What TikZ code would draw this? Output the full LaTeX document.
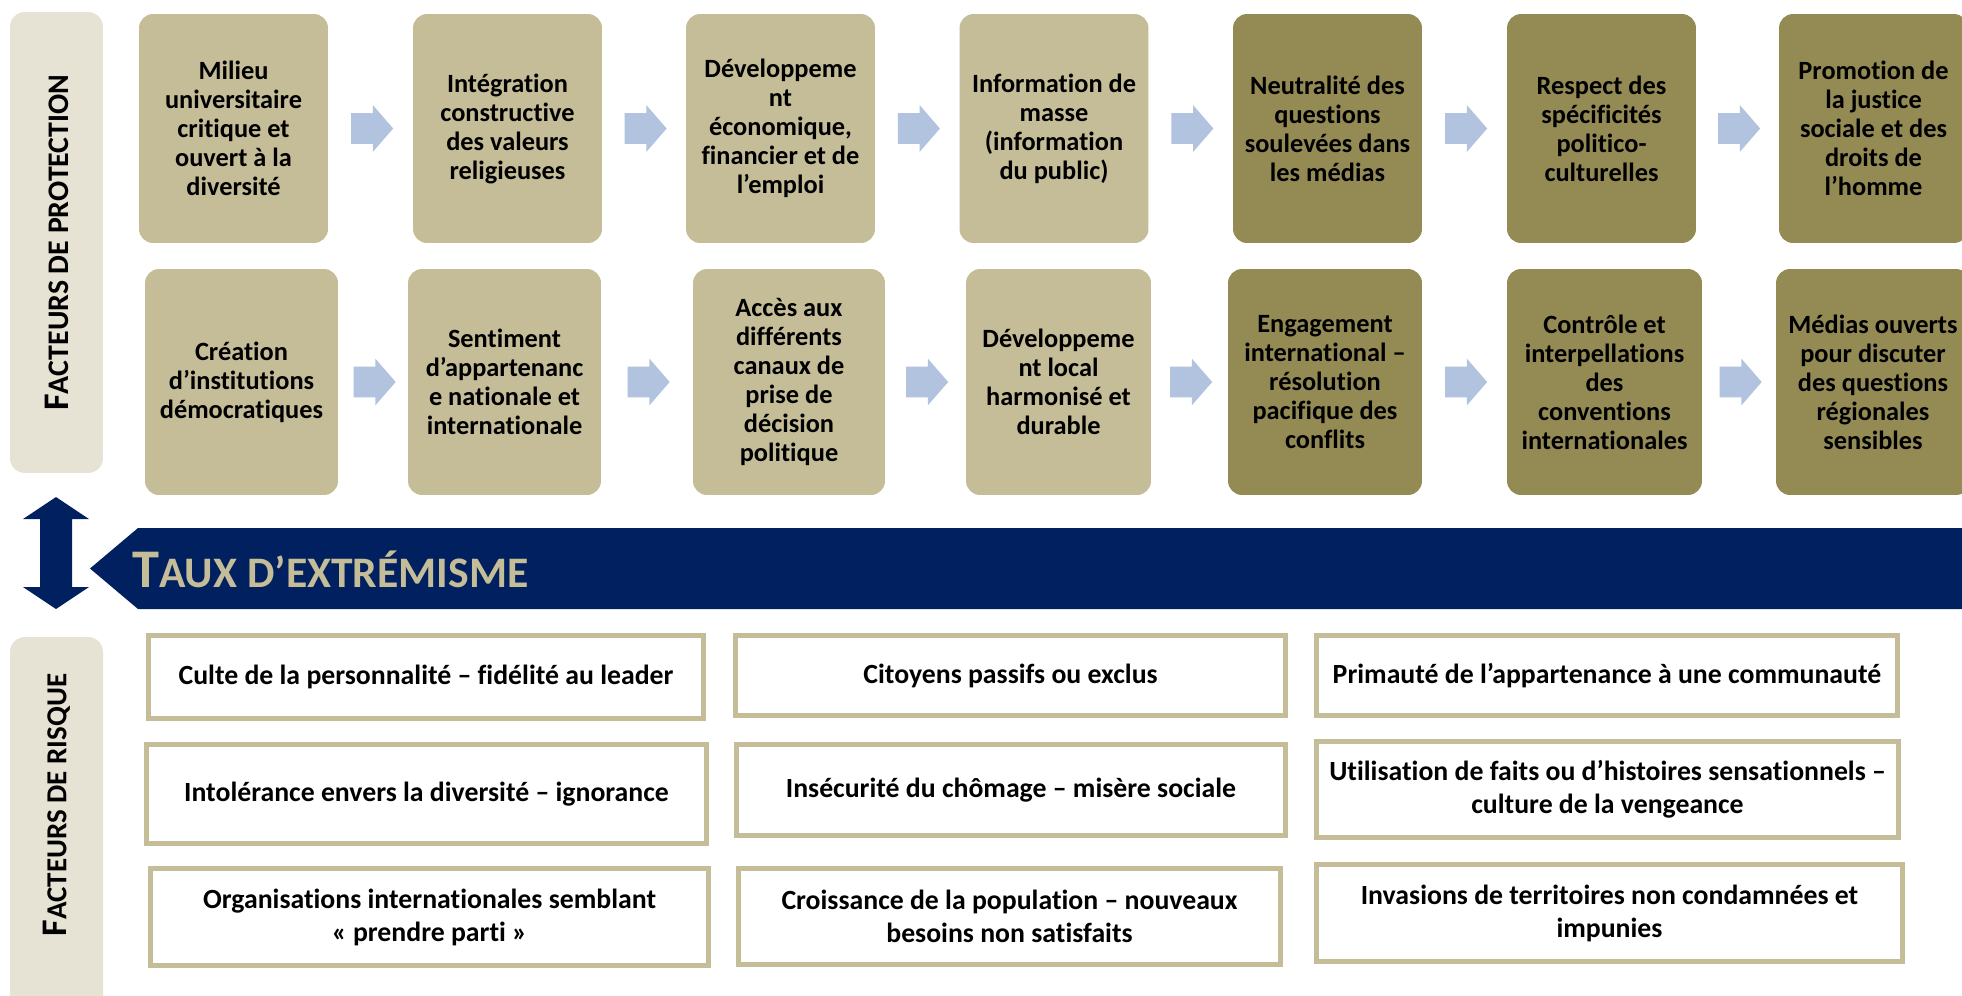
\documentclass[tikz,border=0pt]{standalone}
\usepackage{fontspec}
\setmainfont{Carlito}[Ligatures=NoCommon]
\usepackage{tikz}
\usetikzlibrary{positioning,arrows,calc,shapes.arrows}

\definecolor{tanlight}{HTML}{C4BD97}
\definecolor{tandark}{HTML}{948A54}
\definecolor{sidefill}{HTML}{E6E2D4}
\definecolor{navy}{HTML}{002060}
\definecolor{arrowblue}{HTML}{B2C3DF}

\tikzset{
    factor/.style = {
        shape=rectangle,
        rounded corners=0.28cm,
        fill=tanlight,
        align=center,
        inner sep=0pt,
        minimum width=3.78cm,
        minimum height=4.58cm,
        font=\bfseries\fontsize{15pt}{16.5pt}\selectfont
    },
    factordark/.style = {
        factor,
        fill=tandark
    },
    lower/.style = {
        minimum height=4.52cm
    },
    risk/.style = {
        draw=tanlight,
        shape=rectangle,
        fill=white,
        line width=0.1cm,
        align=center,
        inner sep=0pt,
        font=\bfseries\fontsize{15.8pt}{18.8pt}\selectfont
    },
    sidebar/.style = {
        shape=rectangle,
        rounded corners=0.3cm,
        fill=sidefill,
        minimum width=9.22cm,
        minimum height=1.86cm,
        rotate=90,
        font=\bfseries
    },
    flow/.style = {
        shape=single arrow,
        fill=arrowblue,
        inner xsep=0pt,
        inner ysep=0.3cm,
        minimum height=0.84cm,
        minimum width=0.92cm,
        single arrow head extend=0.16cm,
        single arrow tip angle=98,
        xshift=-0.1cm
    },
    >=latex',
}

\newcommand{\capsize}[2]{{\fontsize{#1}{#1}\selectfont #2}}

\begin{document}
\begin{tikzpicture}[x=0.02cm, y=-0.02cm]
            \clip (0,0) rectangle (1962,995);
            \fill[white] (0,0) rectangle (1962,995);

            % protection factors
            \node[sidebar] (protect) at (56.5,242.5) {\capsize{20.5pt}{F}\capsize{17pt}{ACTEURS DE PROTECTION}};

            \node[factor]     (p11) at (233.5,128.5)  {Milieu\\universitaire\\critique et\\ouvert à la\\diversité};
            \node[factor]     (p12) at (507.5,128.5)  {Intégration\\constructive\\des valeurs\\religieuses};
            \node[factor]     (p13) at (780.5,128.5)  {Développeme\\nt\\économique,\\financier et de\\l’emploi};
            \node[factor]     (p14) at (1054,128.5)   {Information de\\masse\\(information\\du public)};
            \node[factordark] (p15) at (1327.5,128.5) {Neutralité des\\questions\\soulevées dans\\les médias};
            \node[factordark] (p16) at (1601.5,128.5) {Respect des\\spécificités\\politico-\\culturelles};
            \node[factordark] (p17) at (1873.5,128.5) {Promotion de\\la justice\\sociale et des\\droits de\\l’homme};

            \node[factor, lower, minimum width=3.86cm]     (p21) at (241.5,382) {Création\\d’institutions\\démocratiques};
            \node[factor, lower, minimum width=3.86cm]     (p22) at (504.5,382) {Sentiment\\d’appartenanc\\e nationale et\\internationale};
            \node[factor, lower, minimum width=3.84cm]     (p23) at (789,382)   {Accès aux\\différents\\canaux de\\prise de\\décision\\politique};
            \node[factor, lower, minimum width=3.70cm]     (p24) at (1058.5,382) {Développeme\\nt local\\harmonisé et\\durable};
            \node[factordark, lower, minimum width=3.88cm] (p25) at (1325,382)  {Engagement\\international –\\résolution\\pacifique des\\conflits};
            \node[factordark, lower, minimum width=3.90cm] (p26) at (1604.5,382) {Contrôle et\\interpellations\\des\\conventions\\internationales};
            \node[factordark, lower, minimum width=3.88cm] (p27) at (1873,382)  {Médias ouverts\\pour discuter\\des questions\\régionales\\sensibles};

            \foreach \r in {1,2} {
                \foreach \a/\b in {1/2,2/3,3/4,4/5,5/6,6/7} {
                    \node[flow] (f\r\a) at ($(p\r\a.east)!0.5!(p\r\b.west)$) {};
                }
            }

            % extremism band
            \fill[navy] (56,497) -- (89,519) -- (72,519) -- (72,587) -- (89,587) -- (56,609)
                -- (23,587) -- (40,587) -- (40,519) -- (23,519) -- cycle;
            \fill[navy] (138,528) -- (90,568.5) -- (138,609) -- (1970,609) -- (1970,528) -- cycle;
            \node[anchor=base west, inner sep=0pt, text=tanlight, font=\bfseries] (taux) at (132,587)
                {\capsize{31pt}{T}\capsize{24.8pt}{AUX D’EXTRÉMISME}};

            % risk factors
            \fill[sidefill, rounded corners=0.3cm] (10,637) rectangle (103,1015);
            \node[rotate=90, font=\bfseries] (risklabel) at (56.5,805) {\capsize{20.5pt}{F}\capsize{16.5pt}{ACTEURS DE RISQUE}};

            \node[risk, minimum width=11.10cm, minimum height=1.66cm] (r11) at (426,677)     {Culte de la personnalité – fidélité au leader};
            \node[risk, minimum width=11.00cm, minimum height=1.60cm] (r12) at (1010.5,675.5) {Citoyens passifs ou exclus};
            \node[risk, minimum width=11.62cm, minimum height=1.60cm] (r13) at (1607,675.5)  {Primauté de l’appartenance à une communauté};
            \node[risk, minimum width=11.20cm, minimum height=1.98cm] (r21) at (426.5,794)   {Intolérance envers la diversité – ignorance};
            \node[risk, minimum width=10.98cm, minimum height=1.82cm] (r22) at (1011,790)    {Insécurité du chômage – misère sociale};
            \node[risk, minimum width=11.64cm, minimum height=1.92cm] (r23) at (1607.5,789.5) {Utilisation de faits ou d’histoires sensationnels –\\culture de la vengeance};
            \node[risk, minimum width=11.16cm, minimum height=1.94cm] (r31) at (429.5,917)   {Organisations internationales semblant\\« prendre parti »};
            \node[risk, minimum width=10.84cm, minimum height=1.92cm] (r32) at (1009.5,916.5) {Croissance de la population – nouveaux\\besoins non satisfaits};
            \node[risk, minimum width=11.72cm, minimum height=1.94cm] (r33) at (1609.5,913)  {Invasions de territoires non condamnées et\\impunies};
        \end{tikzpicture}
\end{document}
